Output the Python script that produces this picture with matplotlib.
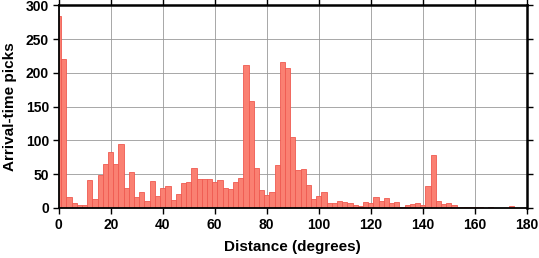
import matplotlib
matplotlib.use("Agg")
import matplotlib.pyplot as plt

# histogram bins are 2 degrees wide, centred on even distances
bin_centers = list(range(0, 182, 2))
pick_counts = [
    285, 221, 16, 7, 4, 4, 42, 13, 49, 65,
    83, 65, 95, 30, 54, 16, 24, 10, 40, 18,
    30, 33, 12, 21, 37, 39, 59, 43, 43, 43,
    39, 41, 30, 28, 38, 44, 212, 159, 59, 27,
    19, 23, 64, 216, 208, 105, 56, 58, 34, 13,
    18, 24, 7, 7, 10, 9, 7, 5, 3, 9,
    7, 16, 10, 15, 7, 9, 2, 5, 6, 7,
    5, 32, 78, 10, 6, 7, 5, 2, 1, 1,
    1, 1, 0, 1, 0, 0, 0, 3, 0, 0,
    0,
]
x_ticks = list(range(0, 200, 20))
y_ticks = list(range(0, 350, 50))

plt.rcParams["font.family"] = ["Liberation Sans", "DejaVu Sans"]
plt.rcParams["font.weight"] = "bold"

fig = plt.figure(figsize=(5.39, 2.58), dpi=100)
ax = fig.add_axes([0.1089, 0.1938, 0.8683, 0.7849])

ax.bar(
    bin_centers,
    pick_counts,
    width=2,
    align="center",
    color="#fa8072",
    edgecolor="#f05a50",
    linewidth=0.6,
    zorder=2,
)

ax.set_xlim(0, 180)
ax.set_ylim(0, 300)
ax.set_xticks(x_ticks)
ax.set_yticks(y_ticks)
ax.tick_params(
    axis="both", which="both", direction="out", length=4, width=1,
    top=True, right=True, labelsize=10, pad=3,
)
for lbl in ax.get_xticklabels() + ax.get_yticklabels():
    lbl.set_fontweight("bold")

ax.grid(True, color="#999999", linewidth=0.6, zorder=0)
ax.set_axisbelow(True)

for side in ["left", "bottom"]:
    ax.spines[side].set_linewidth(1.3)
for side in ["top", "right"]:
    ax.spines[side].set_linewidth(1.8)

ax.set_xlabel("Distance (degrees)", fontsize=11, fontweight="bold", labelpad=6)
ax.set_ylabel("Arrival-time picks", fontsize=11, fontweight="bold", labelpad=6)

fig.savefig("out.png", dpi=100)
plt.close(fig)
